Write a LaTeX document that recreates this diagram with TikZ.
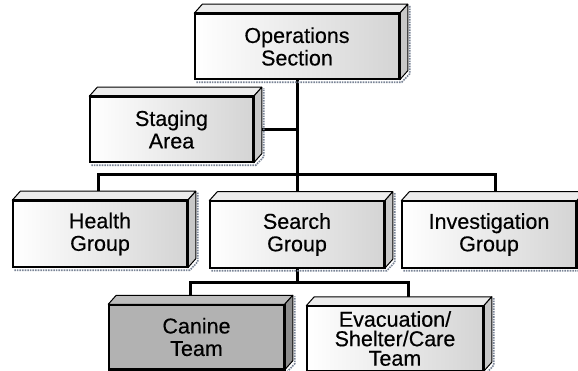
\documentclass[tikz,border=0pt]{standalone}
\usepackage{fontspec}
\setmainfont{Liberation Sans}[FakeBold=0.4]
\usetikzlibrary{
  backgrounds,
  calc
}
\definecolor{orgFace}{HTML}{FFFFFF}
\definecolor{orgEdge}{HTML}{D4D4D4}
\definecolor{orgTop}{HTML}{ECECEC}
\definecolor{orgSide}{HTML}{C8C8C8}
\definecolor{canineFace}{HTML}{B2B2B2}
\definecolor{canineTop}{HTML}{BDBDBD}
\definecolor{canineSide}{HTML}{8C8C8C}
\definecolor{orgShadow}{HTML}{7A8496}
\tikzset{
  orgBox/.style={
    draw=black,
    line width=1.5pt,
    minimum width=174pt,
    minimum height=66pt,
    inner sep=0pt,
    align=center,
    font=\fontsize{21.5}{22.5}\selectfont,
    left color=orgFace,
    right color=orgEdge
  },
  canineBox/.style={orgBox, left color=canineFace, right color=canineFace},
  orgLine/.style={line width=3pt, black},
  bevelFace/.style={draw=black, line width=1pt, line join=round},
  shadowLine/.style={orgShadow, line width=1.6pt, densely dotted}
}
% top and right faces of a box, plus its soft shadow
\newcommand{\boxBevel}[3]{%
  \draw[shadowLine] ($(#1.south west)+(2,2.5)$) -- ($(#1.south east)+(2,2.5)$)
    -- ($(#1.south east)+(10,-6)$) -- ($(#1.north east)+(10,-8)$);
  \filldraw[bevelFace, fill=#2] (#1.north west) -- ++(8,-9)
    -- ($(#1.north east)+(8,-9)$) -- (#1.north east) -- cycle;
  \filldraw[bevelFace, fill=#3] (#1.north east) -- ++(8,-9)
    -- ($(#1.south east)+(8,-9)$) -- (#1.south east) -- cycle;
  \draw[line width=1.5pt] (#1.north west) rectangle (#1.south east);
}

\begin{document}
\begin{tikzpicture}[x=1pt,y=-1pt]
  \useasboundingbox (0,0) rectangle (578,371);

  \node[orgBox, minimum width=204pt, minimum height=65pt] (ops) at (297,46.5)
    {Operations\\Section};
  \node[orgBox, minimum width=163pt, minimum height=65pt] (staging) at (171.5,129.5)
    {Staging\\Area};
  \node[orgBox] (health) at (100,234) {Health\\Group};
  \node[orgBox] (search) at (297,234.5) {Search\\Group};
  \node[orgBox] (invest) at (489,234.5) {Investigation\\Group};
  \node[canineBox, minimum width=175pt, minimum height=64pt] (canine) at (196.5,337)
    {Canine\\Team};
  \node[orgBox, minimum width=176pt, minimum height=64pt,
    font=\fontsize{21.5}{19.5}\selectfont] (evac) at (395,338.5)
    {Evacuation/\\Shelter/Care\\Team};

  \foreach \n in {ops,staging,health,search,invest,evac}
    \boxBevel{\n}{orgTop}{orgSide};
  \boxBevel{canine}{canineTop}{canineSide};

  \coordinate (busL) at (98,175);
  \coordinate (busR) at (495,175);
  \coordinate (lowL) at (190,283);
  \coordinate (lowR) at (408,283);

  \begin{scope}[on background layer]
    \draw[orgLine] (ops.south) -- (search.north);
    \draw[orgLine] (staging.east) -- (staging.east -| ops.south);
    \draw[orgLine] (busL |- health.north) -- (busL) -- (busR)
      -- (busR |- invest.north);
    \draw[orgLine] (search.south) -- (search.south |- lowL);
    \draw[orgLine] (lowL |- canine.north) -- (lowL) -- (lowR)
      -- (lowR |- evac.north);
  \end{scope}
\end{tikzpicture}
\end{document}
